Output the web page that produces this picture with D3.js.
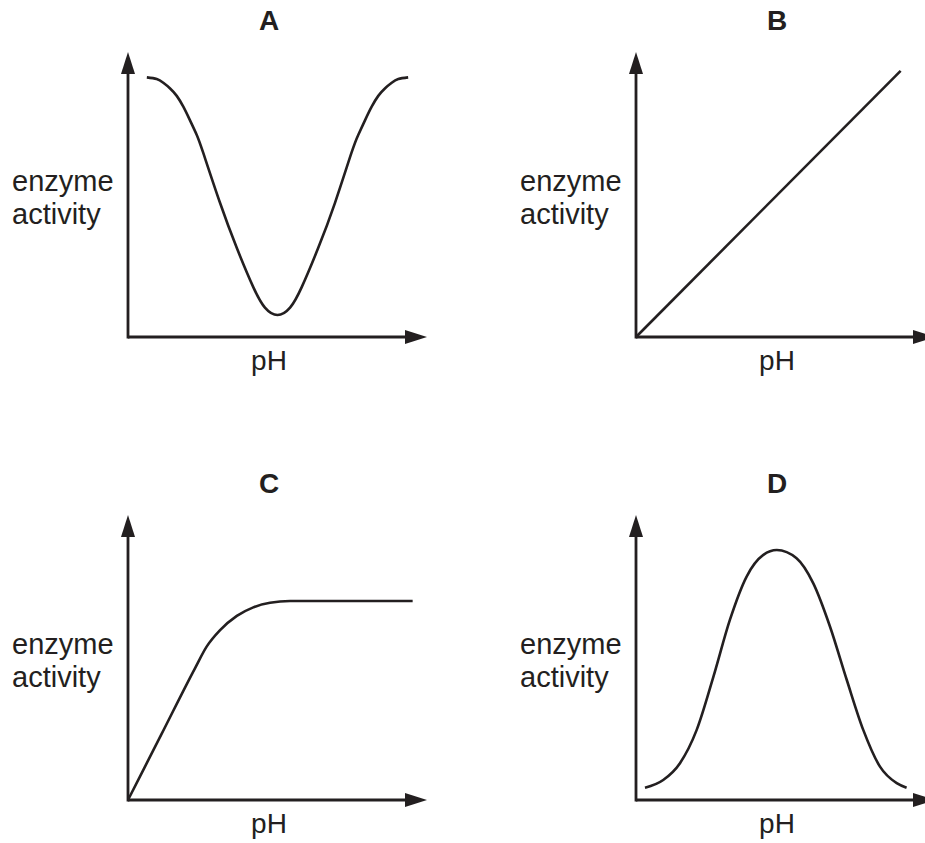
<!DOCTYPE html>
<html>
<head>
<meta charset="utf-8">
<script src="https://cdn.jsdelivr.net/npm/d3@7/dist/d3.min.js"></script>
<style>
  html, body { margin: 0; padding: 0; background: #ffffff; }
  svg { display: block; }
</style>
</head>
<body>
<svg id="chart" width="925" height="843"></svg>
<script>
// ---------- data (arbitrary units: pH 0–10 along x, activity 0–10 along y) ----------
const panelTitles = ["A", "B", "C", "D"];
const xAxisLabel = "pH";
const yAxisLabel = ["enzyme", "activity"];

const curveA_pH       = [0.63, 0.96, 1.18, 1.40, 1.63, 1.85, 2.07, 2.30, 2.52, 3.08, 3.64, 4.19, 4.58, 5.00,
                         5.42, 5.81, 6.36, 6.92, 7.47, 7.70, 7.93, 8.15, 8.37, 8.60, 8.82, 9.04, 9.37];
const curveA_activity = [9.11, 9.05, 8.92, 8.73, 8.46, 8.08, 7.61, 7.09, 6.45, 4.70, 3.12, 1.75, 1.03, 0.77,
                         1.03, 1.75, 3.12, 4.70, 6.45, 7.09, 7.61, 8.08, 8.46, 8.73, 8.92, 9.05, 9.11];

const curveB_pH       = [0, 8.85];
const curveB_activity = [0, 9.34];

const curveC_pH       = [0, 1.12, 2.24, 2.63, 3.08, 3.64, 4.19, 4.75, 5.42, 9.52];
const curveC_activity = [0, 2.31, 4.62, 5.38, 5.96, 6.46, 6.76, 6.92, 6.98, 6.98];

const curveD_pH       = [0.30, 0.91, 1.47, 2.03, 2.59, 3.14, 3.70, 4.26, 4.71, 5.37, 5.93, 6.49, 7.05, 7.60, 8.16, 8.72, 9.05];
const curveD_activity = [0.43, 0.70, 1.29, 2.46, 4.33, 6.32, 7.84, 8.60, 8.77, 8.48, 7.60, 6.08, 4.21, 2.46, 1.17, 0.59, 0.43];

// ---------- layout ----------
const ink = "#231f20";
const origins = [[128, 337], [636, 337], [128, 800], [636, 800]];
const xLen = 299, yLen = 285;
const arrowLen = 22, arrowHalf = 7;

const x = d3.scaleLinear().domain([0, 10]).range([0, xLen]);
const y = d3.scaleLinear().domain([0, 10]).range([0, -yLen]);

const series = [
  { px: curveA_pH, py: curveA_activity, curve: d3.curveNatural },
  { px: curveB_pH, py: curveB_activity, curve: d3.curveLinear },
  { px: curveC_pH, py: curveC_activity, curve: d3.curveMonotoneX },
  { px: curveD_pH, py: curveD_activity, curve: d3.curveMonotoneX }
];

const svg = d3.select("#chart");
const line = d3.line().x(d => x(d[0])).y(d => y(d[1]));
const font = "Liberation Sans, Arial, Helvetica, sans-serif";

series.forEach((s, i) => {
  const [ox, oy] = origins[i];
  const g = svg.append("g").attr("transform", `translate(${ox},${oy})`);

  // axes (drawn to the arrow base), then arrowheads
  const xEnd = x(10), yEnd = y(10);
  g.append("line")
    .attr("x1", 0).attr("y1", 0).attr("x2", xEnd - arrowLen + 2).attr("y2", 0)
    .attr("stroke", ink).attr("stroke-width", 2.8);
  g.append("line")
    .attr("x1", 0).attr("y1", 1.4).attr("x2", 0).attr("y2", yEnd + arrowLen - 2)
    .attr("stroke", ink).attr("stroke-width", 2.8);
  g.append("path")
    .attr("d", `M${xEnd},0 L${xEnd - arrowLen},${-arrowHalf} L${xEnd - arrowLen},${arrowHalf} Z`)
    .attr("fill", ink);
  g.append("path")
    .attr("d", `M0,${yEnd} L${-arrowHalf},${yEnd + arrowLen} L${arrowHalf},${yEnd + arrowLen} Z`)
    .attr("fill", ink);

  // curve
  const pts = s.px.map((v, k) => [v, s.py[k]]);
  g.append("path")
    .attr("d", line.curve(s.curve)(pts))
    .attr("fill", "none")
    .attr("stroke", ink)
    .attr("stroke-width", 2.6)
    .attr("stroke-linejoin", "round")
    .attr("stroke-linecap", "butt");

  // title
  g.append("text")
    .attr("x", 141).attr("y", -307)
    .attr("text-anchor", "middle")
    .attr("font-family", font)
    .attr("font-weight", "bold")
    .attr("font-size", 28)
    .attr("fill", ink)
    .text(panelTitles[i]);

  // x label
  g.append("text")
    .attr("x", 141).attr("y", 33)
    .attr("text-anchor", "middle")
    .attr("font-family", font)
    .attr("font-size", 28)
    .attr("fill", ink)
    .text(xAxisLabel);

  // y label (two lines)
  yAxisLabel.forEach((t, k) => {
    g.append("text")
      .attr("x", -116).attr("y", -146 + k * 33)
      .attr("font-family", font)
      .attr("font-size", 29)
      .attr("fill", ink)
      .text(t);
  });
});
</script>
</body>
</html>
